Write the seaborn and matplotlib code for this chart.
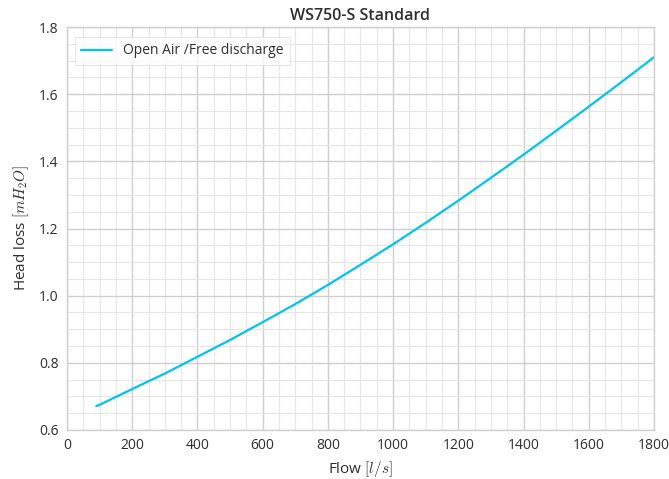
import matplotlib
matplotlib.use("Agg")
import matplotlib.pyplot as plt
from matplotlib.ticker import MultipleLocator
import seaborn as sns
import pandas as pd

flow = [90, 100, 200, 300, 400, 500, 600, 700, 800, 900, 1000,
        1100, 1200, 1300, 1400, 1500, 1600, 1700, 1800]
head_loss = [0.671, 0.675, 0.722, 0.768, 0.818, 0.868, 0.921, 0.975, 1.032,
             1.092, 1.153, 1.217, 1.283, 1.351, 1.420, 1.491, 1.563, 1.636, 1.710]
series_name = "Open Air /Free discharge"
title = "WS750-S Standard"

df = pd.DataFrame({"Flow": flow, "Head loss": head_loss, "series": series_name})

sns.set_style("white")
plt.rcParams["font.family"] = ["Open Sans", "DejaVu Sans"]
plt.rcParams["mathtext.fontset"] = "cm"
text_color = "#2e2e2e"

fig = plt.figure(figsize=(6.69, 4.79), dpi=100)
ax = fig.add_axes([0.1001, 0.1023, 0.8775, 0.8413])

sns.lineplot(data=df, x="Flow", y="Head loss", hue="series",
             palette=["#00c4ec"], linewidth=1.6, ax=ax)

ax.set_xlim(0, 1800)
ax.set_ylim(0.6, 1.8)
ax.xaxis.set_major_locator(MultipleLocator(200))
ax.xaxis.set_minor_locator(MultipleLocator(50))
ax.yaxis.set_major_locator(MultipleLocator(0.2))
ax.yaxis.set_minor_locator(MultipleLocator(0.05))
ax.grid(which="major", color="#cfcfcf", linewidth=1.0)
ax.grid(which="minor", color="#e6e6e6", linewidth=0.8)
ax.set_axisbelow(True)
ax.tick_params(which="both", length=0, labelsize=10, colors=text_color, pad=6)
for s in ax.spines.values():
    s.set_color("#d0d0d0")
    s.set_linewidth(1.0)

ax.set_xlabel(r"Flow $[l/s]$", fontsize=11, color=text_color, labelpad=4)
ax.set_ylabel(r"Head loss $[m H_2 O]$", fontsize=11, color=text_color, labelpad=6)
ax.set_title(title, fontsize=11.5, fontweight="semibold", color=text_color, pad=5)

leg = ax.legend(loc="upper left", fontsize=10, frameon=True, fancybox=False,
                borderpad=0.45, handlelength=2.2, handletextpad=0.8,
                bbox_to_anchor=(0.002, 0.992))
leg.get_frame().set_edgecolor("#e0e0e0")
leg.get_frame().set_linewidth(0.8)
for t in leg.get_texts():
    t.set_color(text_color)

fig.savefig("out.png", dpi=100)
